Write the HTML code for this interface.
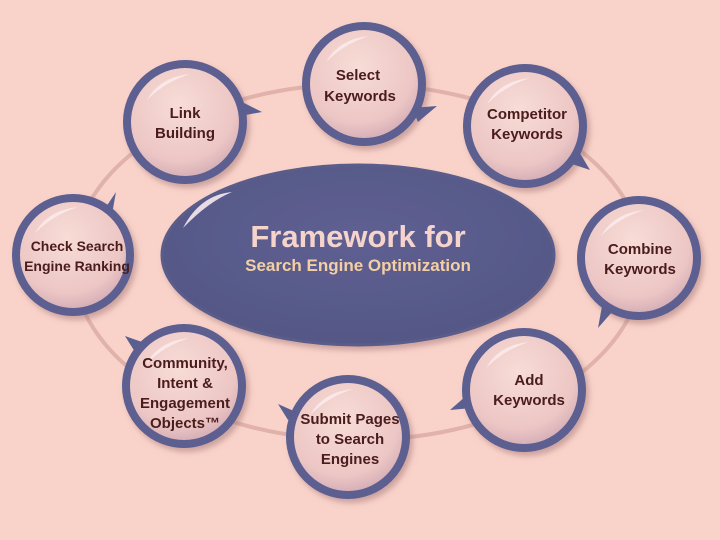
<!DOCTYPE html>
<html><head><meta charset="utf-8"><style>
html,body{margin:0;padding:0;background:#f9d3ca;}
svg{display:block}
text{font-family:"Liberation Sans",sans-serif;font-weight:bold;}
</style></head><body>
<svg width="720" height="540" viewBox="0 0 720 540">
<defs>
<radialGradient id="g" cx="45%" cy="35%" r="70%">
<stop offset="0" stop-color="#f8dcd6"/><stop offset="0.7" stop-color="#ecc6c4"/><stop offset="1" stop-color="#c9a3b0"/>
</radialGradient>
<radialGradient id="e" cx="50%" cy="40%" r="60%">
<stop offset="0" stop-color="#5f5f92"/><stop offset="1" stop-color="#545886"/>
</radialGradient>
<filter id="s" x="-20%" y="-20%" width="150%" height="150%"><feDropShadow dx="3" dy="4" stdDeviation="3" flood-color="#a07070" flood-opacity="0.5"/></filter>
<g id="hl"><path d="M-38 -22 Q-25 -45 5 -48 Q-20 -40 -38 -22Z" fill="#fbeef0" opacity="0.8"/></g>
</defs>
<rect width="720" height="540" fill="#f9d3ca"/>
<ellipse cx="358" cy="262" rx="285" ry="178" fill="none" stroke="#e0b2aa" stroke-width="4"/>
<ellipse cx="358" cy="255" rx="196" ry="90" fill="url(#e)" stroke="#5a5c8a" stroke-width="3" filter="url(#s)"/>
<path d="M183 228 Q200 195 232 192 Q208 202 183 228Z" fill="#e9dbe6"/>
<text x="358" y="247" text-anchor="middle" font-size="31" fill="#f6d4cc">Framework for</text>
<text x="358" y="271" text-anchor="middle" font-size="17" fill="#f4cfa3">Search Engine Optimization</text>
<g stroke="#5b5f90" stroke-width="8" fill="url(#g)" filter="url(#s)">
<circle cx="364" cy="84" r="58"/>
<circle cx="525" cy="126" r="58"/>
<circle cx="639" cy="258" r="58"/>
<circle cx="524" cy="390" r="58"/>
<circle cx="348" cy="437" r="58"/>
<circle cx="184" cy="386" r="58"/>
<circle cx="73" cy="255" r="57"/>
<circle cx="185" cy="122" r="58"/>
</g>
<use href="#hl" x="364" y="84"/><use href="#hl" x="525" y="126"/><use href="#hl" x="639" y="258"/>
<use href="#hl" x="524" y="390"/><use href="#hl" x="348" y="437"/><use href="#hl" x="184" y="386"/>
<use href="#hl" x="73" y="255"/><use href="#hl" x="185" y="122"/>
<g fill="#5b5f90">
<path d="M412 108 L437 106 L418 122Z"/>
<path d="M578 150 L590 170 L566 162Z"/>
<path d="M612 312 L598 328 L602 306Z"/>
<path d="M472 408 L450 410 L466 396Z"/>
<path d="M288 420 L278 404 L296 412Z"/>
<path d="M135 352 L125 336 L142 342Z"/>
<path d="M104 210 L116 192 L112 214Z"/>
<path d="M238 100 L262 112 L240 116Z"/>
</g>
<g font-size="15" fill="#4a1c1c" text-anchor="middle">
<text x="358" y="80">Select</text><text x="360" y="101">Keywords</text>
<text x="527" y="119">Competitor</text><text x="527" y="139">Keywords</text>
<text x="640" y="254">Combine</text><text x="640" y="274">Keywords</text>
<text x="529" y="385">Add</text><text x="529" y="405">Keywords</text>
<text x="350" y="424">Submit Pages</text><text x="350" y="444">to Search</text><text x="350" y="464">Engines</text>
<text x="185" y="368">Community,</text><text x="185" y="388">Intent &amp;</text><text x="185" y="408">Engagement</text><text x="185" y="428">Objects™</text>
<text x="77" y="251" font-size="14">Check Search</text><text x="77" y="271" font-size="14">Engine Ranking</text>
<text x="185" y="118">Link</text><text x="185" y="138">Building</text>
</g>
</svg>
</body></html>
